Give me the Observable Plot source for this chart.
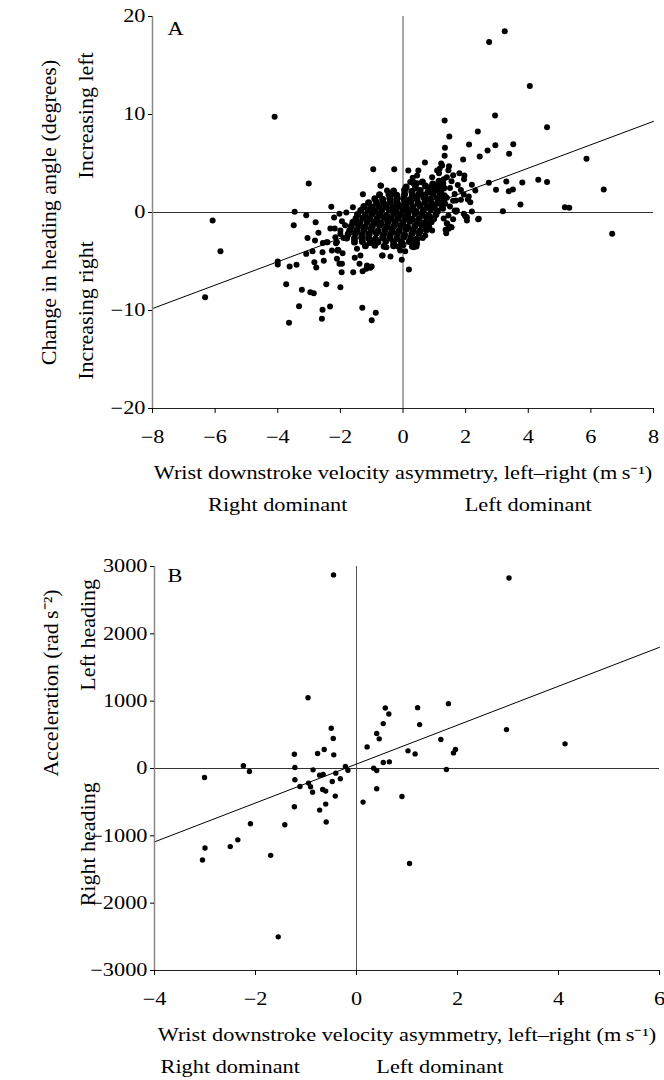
<!DOCTYPE html>
<html><head><meta charset="utf-8">
<script src="https://cdn.jsdelivr.net/npm/d3@7"></script>
<script src="https://cdn.jsdelivr.net/npm/@observablehq/plot@0.6"></script>
<style>
body{margin:0;background:#fff;}
svg{display:block;}
</style></head><body><div id="chart"></div>
<script>
// ---------- Panel A data ----------
const xTicksA = [-8, -6, -4, -2, 0, 2, 4, 6, 8];
const yTicksA = [-20, -10, 0, 10, 20];
const lineAX = [-8, 8];
const lineAY = [-9.8, 9.3];
const outerA = [
[3.25,18.5],[2.75,17.4],[4.05,12.9],[-4.1,9.76],[1.33,9.4],[2.94,9.9],[4.6,8.7],[1.48,7.76],[2.39,8.27],[2.11,6.94],
[2.95,6.87],[3.52,6.97],[2.7,6.33],[3.39,5.99],[2.45,5.71],[1.92,5.41],[1.34,6.6],[1.33,5.8],[5.86,5.48],[0.7,5.1],
[1.22,5.0],[-0.95,4.42],[-0.28,4.42],[0.17,4.29],[0.49,4.29],[0.31,3.54],[1.17,4.46],[1.47,4.73],[1.96,3.78],[-3.01,2.96],
[-1.28,1.87],[-0.7,2.72],[0.45,2.99],[2.2,2.82],[2.74,3.03],[3.3,3.16],[3.81,3.06],[4.32,3.33],[4.6,3.1],[2.97,2.31],
[3.38,2.18],[3.51,2.35],[2.31,2.24],[6.41,2.35],[3.75,0.82],[5.17,0.54],[5.31,0.48],[3.19,0.14],[6.68,-2.18],[-6.08,-0.82],
[-5.83,-3.95],[-6.32,-8.64],[-3.46,0.07],[-3.09,-0.27],[-3.49,-1.29],[-2.79,-0.99],[-3.05,-2.59],[-2.81,-2.86],[-2.7,-2.07],[-3.09,-4.22],
[-2.89,-3.95],[-2.57,-4.05],[-4.0,-5.0],[-4.0,-5.3],[-3.62,-5.51],[-3.4,-5.34],[-2.83,-5.07],[-2.53,-4.93],[-2.77,-5.61],[-2.56,-3.1],
[-3.73,-7.31],[-3.23,-7.89],[-2.96,-8.13],[-2.85,-8.23],[-2.45,-7.31],[-2.0,-7.62],[-3.32,-9.56],[-2.57,-9.93],[-2.33,-9.59],[-2.59,-10.85],
[-3.64,-11.26],[-1.3,-9.73],[-0.87,-10.24],[-1.0,-10.99],[0.19,-5.82],[-0.04,-4.83],[-1.59,-6.09],[-1.29,-5.99],[-1.0,-5.51],[-1.17,-5.75],
[-1.96,-6.09],[-2.03,-5.24],[-1.93,-4.15],[-2.08,-3.81],[-1.54,-4.63],[-1.36,-4.39],[-1.47,-3.71],[-0.65,-4.39],[-0.4,-4.49],[-0.16,-3.47],
[0.07,-3.95],[0.43,-3.47],[0.63,-2.59],[-0.53,-3.54],[1.36,-1.77],[1.38,-2.11],[1.49,-1.43],[2.4,-0.68],[2.2,0.1],[1.99,-0.37],
[1.69,0.07],[1.85,1.29],[2.07,1.33],[2.1,1.63],[1.69,1.22],[1.94,1.84],[2.15,1.05],[1.28,0.37],[-1.6,0.54],[-1.81,0.0],
[-2.03,-0.14],[-2.29,0.58],[-2.32,-1.63],[-2.18,-1.63],[-1.51,-1.02],[-2.44,-3.03],[-2.14,-3.13],[-2.41,-3.03],[-2.11,-3.03],[-2.09,-3.88],
[-2.0,-1.84],[-2.16,-2.52],[-2.27,-3.88],[-2.06,-3.88],[-2.11,-4.73],[-1.95,-5.24],[-1.39,-5.24],[-1.15,-5.41],[-1.04,-5.65],[-0.67,-4.39],
[-0.09,-3.88],[0.34,-3.54],[0.45,-3.2],[0.71,-2.35],[0.93,-1.84],[0.77,-1.16],[1.72,0.2],[1.94,-0.14],[2.04,-0.82],[1.41,-1.16],
[1.46,-1.66],[2.42,-0.65],[2.04,-0.48],[1.25,4.8],[1.45,4.3],[1.15,4.0],[1.4,3.6],[1.6,3.8],[1.8,4.0],[1.95,3.4],
[1.55,3.2],[1.75,2.8],[1.3,3.4],[1.85,2.3],[1.5,2.5],[1.65,1.9],[1.4,1.5],[1.6,1.2],[1.5,0.6],[1.65,0.2],
[1.45,-0.3],[1.6,-0.7],[1.4,-1.1],[1.55,-1.5],[1.3,-0.6],[1.35,0.9],[-1.95,-0.9],[-2.2,-0.5],[-1.85,-1.3],[-1.9,-2.6],
[-2.0,-2.2],[-0.72,2.76],[-0.51,2.24],[-0.35,1.9],[0.23,3.1],[0.39,2.76],[0.45,3.78],[0.93,3.6],[1.09,4.29],[0.93,2.58],[1.19,2.93]
];
const coreA = [
[0.35,3.0],[0.62,3.1],[0.95,2.9],[1.15,3.2],[1.27,2.95],
[0.1,2.6],[0.4,2.5],[0.72,2.7],[0.9,2.55],[1.1,2.65],[1.3,2.5],
[-0.3,2.2],[0.05,2.3],[0.28,2.15],[0.55,2.25],[0.8,2.1],[1.02,2.25],[1.2,2.15],
[-0.75,1.8],[-0.45,1.9],[-0.2,1.75],[0.05,1.85],[0.3,1.7],[0.5,1.85],[0.7,1.75],[0.95,1.9],[1.18,1.8],[1.32,1.7],
[-0.9,1.4],[-0.65,1.35],[-0.42,1.45],[-0.2,1.35],[0.02,1.45],[0.22,1.3],[0.45,1.4],[0.68,1.5],[0.88,1.35],[1.1,1.45],[1.3,1.3],
[-1.1,1.0],[-0.85,1.05],[-0.62,0.95],[-0.4,1.05],[-0.18,0.95],[0.05,1.0],[0.25,1.1],[0.48,0.95],[0.7,1.05],[0.92,0.9],[1.12,1.0],
[-1.25,0.6],[-1.0,0.55],[-0.78,0.65],[-0.55,0.6],[-0.33,0.5],[-0.12,0.65],[0.1,0.6],[0.32,0.55],[0.55,0.7],[0.78,0.6],[1.0,0.55],[1.25,0.65],
[-1.35,0.2],[-1.12,0.25],[-0.9,0.15],[-0.68,0.2],[-0.45,0.3],[-0.22,0.15],[0.0,0.2],[0.2,0.25],[0.42,0.1],[0.65,0.2],[0.88,0.3],[1.1,0.15],
[-1.45,-0.2],[-1.2,-0.25],[-0.98,-0.15],[-0.75,-0.2],[-0.52,-0.3],[-0.3,-0.15],[-0.08,-0.2],[0.15,-0.25],[0.38,-0.1],[0.6,-0.2],[0.82,-0.3],[1.05,-0.2],
[-1.5,-0.6],[-1.28,-0.55],[-1.05,-0.65],[-0.82,-0.6],[-0.6,-0.5],[-0.38,-0.65],[-0.15,-0.6],[0.08,-0.55],[0.3,-0.7],[0.52,-0.6],[0.75,-0.5],[0.98,-0.65],
[-1.6,-1.0],[-1.38,-1.05],[-1.15,-0.95],[-0.92,-1.0],[-0.7,-1.1],[-0.48,-0.95],[-0.25,-1.0],[0.0,-1.05],[0.22,-0.9],[0.45,-1.0],[0.68,-1.1],[0.9,-0.95],
[-1.65,-1.4],[-1.42,-1.35],[-1.2,-1.45],[-0.98,-1.4],[-0.75,-1.3],[-0.52,-1.45],[-0.3,-1.4],[-0.08,-1.35],[0.15,-1.5],[0.38,-1.4],[0.6,-1.3],[0.82,-1.45],
[-1.7,-1.8],[-1.48,-1.85],[-1.25,-1.75],[-1.02,-1.8],[-0.8,-1.9],[-0.58,-1.75],[-0.35,-1.8],[-0.12,-1.85],[0.1,-1.7],[0.32,-1.8],[0.55,-1.9],[0.75,-1.75],
[-1.75,-2.2],[-1.52,-2.15],[-1.3,-2.25],[-1.08,-2.2],[-0.85,-2.1],[-0.62,-2.25],[-0.4,-2.2],[-0.18,-2.15],[0.05,-2.3],[0.28,-2.2],[0.5,-2.1],
[-1.8,-2.6],[-1.55,-2.65],[-1.32,-2.55],[-1.1,-2.6],[-0.88,-2.7],[-0.65,-2.55],[-0.42,-2.6],[-0.2,-2.65],[0.02,-2.5],[0.25,-2.6],[0.45,-2.7],
[-1.55,-3.0],[-1.3,-2.95],[-1.05,-3.05],[-0.8,-3.0],[-0.55,-2.9],[-0.3,-3.05],[-0.05,-3.0],[0.2,-2.95],[0.4,-3.1],
[-1.2,-3.4],[-0.9,-3.35],[-0.6,-3.45],[-0.3,-3.4],[0.0,-3.3],[0.3,-3.45]
];

// ---------- Panel B data ----------
const xTicksB = [-4, -2, 0, 2, 4, 6];
const yTicksB = [-3000, -2000, -1000, 0, 1000, 2000, 3000];
const lineBX = [-4, 6];
const lineBY = [-1090, 1800];
const pointsB = [
[-0.455,2875],[3.02,2830],[-0.96,1050],[0.57,899],[0.64,810],[1.21,904],[1.82,963],[1.25,652],[0.53,667],[-0.5,598],
[-0.46,445],[0.4,519],[0.45,440],[2.97,578],[4.13,366],[1.67,430],[0.21,321],[1.02,262],[1.16,217],[1.96,282],
[1.92,232],[-0.64,282],[-0.77,222],[-1.23,212],[-0.45,203],[0.53,89],[0.65,99],[-2.24,40],[-2.12,-44],[-3.01,-133],
[-1.22,15],[-0.86,-20],[-0.22,30],[-0.17,-25],[0.34,5],[0.4,-30],[1.78,-15],[-1.22,-168],[-0.73,-99],[-0.66,-89],
[-0.41,-69],[-0.32,-153],[-0.48,-193],[-1.12,-267],[-0.95,-217],[-0.91,-272],[-0.87,-351],[-0.67,-311],[-0.61,-336],[-0.42,-410],
[0.4,-301],[0.9,-415],[0.13,-499],[-1.23,-568],[-0.61,-529],[-0.73,-618],[-0.6,-795],[-2.1,-820],[-1.42,-835],[-3.0,-1180],
[-3.05,-1360],[-2.5,-1160],[-2.35,-1060],[-1.7,-1290],[-1.55,-2500],[1.05,-1410]
];

// ---------- Text ----------
const xTitle = "Wrist downstroke velocity asymmetry, left\u2013right (m\u2009s\u207B\u00B9)";
const dominantLabels = ["Right dominant", "Left dominant"];
const dominantXA = [-4, 4];
const dominantXB = [-2.5, 1.65];
const yLabelsA = ["Change in heading angle (degrees)", "Increasing left", "Increasing right"];
const yLabelPosA = [0, 9.9, -10];
const yLabelsB = ["Acceleration (rad\u2009s\u207B\u00B2)", "Left heading", "Right heading"];
const yLabelPosB = [1270, 1985, -1126];
const yLabelDx = [-104, -67, -67];

const FONT = "'Liberation Serif', 'Times New Roman', serif";
const fmt = d => d < 0 ? "\u2212" + Math.abs(d) : String(d);
const STRETCH = 1.24;

// widen horizontal texts to match the reference's wide lettering
function stretch(svg, s) {
  svg.querySelectorAll("text").forEach(t => {
    const tr = t.getAttribute("transform") || "";
    if (/rotate\(/.test(tr)) return;
    if (tr) t.setAttribute("transform", tr + ` scale(${s},1)`);
    else {
      const x = +(t.getAttribute("x") || 0), y = +(t.getAttribute("y") || 0);
      t.setAttribute("transform", `translate(${x},${y}) scale(${s},1) translate(${-x},${-y})`);
    }
  });
}

const root = document.getElementById("chart");

function build(cfg) {
  const p = Plot.plot({
    width: 664, height: 540,
    marginLeft: cfg.ml, marginRight: cfg.mr, marginTop: cfg.mt, marginBottom: cfg.mb,
    style: {fontFamily: FONT, fontSize: "18px", color: "#000", background: "#fff", overflow: "visible"},
    x: {domain: cfg.xd, ticks: cfg.xt},
    y: {domain: cfg.yd, ticks: cfg.yt},
    marks: [
      Plot.ruleY([0], {stroke: "#333", strokeWidth: 1}),
      Plot.ruleX([0], {stroke: "#555", strokeWidth: 1}),
      Plot.line(cfg.lx, {x: d => d, y: (d, i) => cfg.ly[i], stroke: "#000", strokeWidth: 1}),
      ...cfg.dots.map((arr, k) => Plot.dot(arr, {x: d => d[0], y: d => d[1], r: cfg.r[k], fill: "#000", stroke: "none"})),
      Plot.ruleX([cfg.xd[0]], {stroke: "#888", strokeWidth: 1.5}),
      Plot.ruleY([cfg.yd[0]], {stroke: "#222", strokeWidth: 1.2}),
      Plot.axisX({ticks: cfg.xt, tickSize: 5, tickPadding: 17, tickFormat: fmt, label: null, fontSize: 18}),
      Plot.axisY({ticks: cfg.yt, tickSize: 4, tickPadding: 3, tickFormat: fmt, label: null, fontSize: 18}),
      Plot.text([cfg.letter], {frameAnchor: "top-left", dx: cfg.ldx, dy: cfg.ldy, textAnchor: "start", lineAnchor: "top", fontSize: 18}),
      Plot.text([xTitle], {frameAnchor: "bottom", dy: 65, lineAnchor: "middle", textAnchor: "middle", fontSize: 18}),
      Plot.text(dominantLabels, {x: (d, i) => cfg.dx[i], frameAnchor: "bottom", dy: 97, lineAnchor: "middle", textAnchor: "middle", fontSize: 18}),
      ...cfg.yl.map((lab, i) => Plot.text([lab], {y: [cfg.yp[i]], frameAnchor: "left", dx: yLabelDx[i], rotate: -90, textAnchor: "middle", lineAnchor: "middle", fontSize: 22}))
    ]
  });
  stretch(p, STRETCH);
  root.appendChild(p);
}

build({ml: 152, mr: 11, mt: 16, mb: 132, xd: [-8, 8], yd: [-20, 20], xt: xTicksA, yt: yTicksA,
  lx: lineAX, ly: lineAY, dots: [outerA, coreA], r: [3.0, 3.5], letter: "A", ldx: 15, ldy: 6,
  dx: dominantXA, yl: yLabelsA, yp: yLabelPosA});
build({ml: 154, mr: 5, mt: 26, mb: 110, xd: [-4, 6], yd: [-3000, 3000], xt: xTicksB, yt: yTicksB,
  lx: lineBX, ly: lineBY, dots: [pointsB], r: [2.7], letter: "B", ldx: 13, ldy: 3,
  dx: dominantXB, yl: yLabelsB, yp: yLabelPosB});
</script></body></html>
